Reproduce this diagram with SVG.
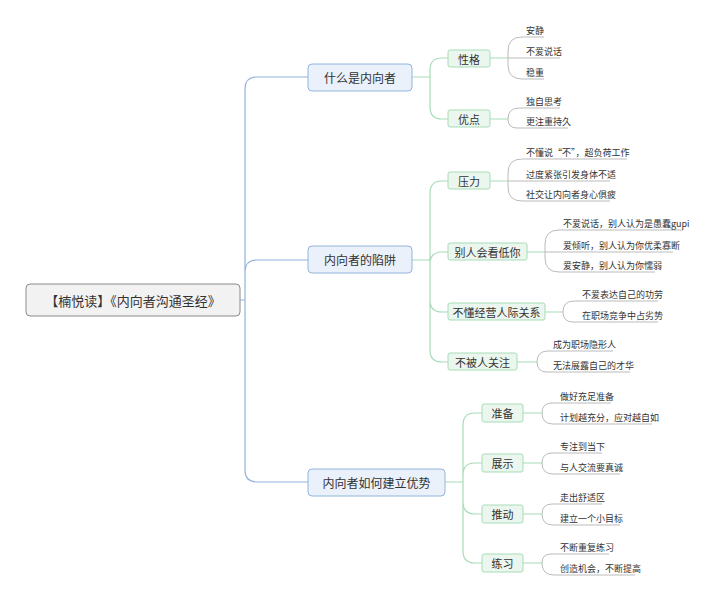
<svg xmlns="http://www.w3.org/2000/svg" width="708" height="600" viewBox="0 0 708 600">
<style>
text{font-family:"Noto Sans CJK SC","Liberation Sans",sans-serif;fill:#333}
.root{fill:#f2f2f2;stroke:#8a8a8a;stroke-width:1}
.main{fill:#eaf1fa;stroke:#94b4dc;stroke-width:1}
.sec{fill:#ebf6ee;stroke:#a8dcb8;stroke-width:1}
.tr{font-size:13px;text-anchor:middle;dominant-baseline:central}
.tm{font-size:12px;text-anchor:middle;dominant-baseline:central}
.ts{font-size:11px;text-anchor:middle;dominant-baseline:central}
.tl{font-size:9px}
.cm{fill:none;stroke:#94b4dc;stroke-width:1.2}
.cs{fill:none;stroke:#a8dcb8;stroke-width:1.2}
.cl{fill:none;stroke:#bbbbbb;stroke-width:1}
</style>
<g id="connectors">
<path class="cm" d="M240,300 H245 M245,300 V89 Q245,77 257,77 H308 M245,300 V272 Q245,260 257,260 H308 M245,300 V470 Q245,482 257,482 H308"/>
<path class="cs" d="M412,77 H430 M430,77 V70 Q430,58 442,58 H448 M430,77 V107 Q430,119 442,119 H448"/>
<path class="cs" d="M412,260 H430 M430,260 V193 Q430,181 442,181 H448 M430,260 V264 Q430,252 442,252 H448 M430,260 V300 Q430,312 442,312 H448 M430,260 V350 Q430,362 442,362 H448"/>
<path class="cs" d="M445,482 H463 M463,482 V425 Q463,413 475,413 H482 M463,482 V475 Q463,463 475,463 H482 M463,482 V502 Q463,514 475,514 H482 M463,482 V551 Q463,563 475,563 H482"/>
<path class="cs" d="M490,58 H508 M490,119 H508 M490,181 H508 M527,252 H545 M545,312 H563 M517,362 H537 M523,413 H542 M523,463 H542 M523,514 H542 M523,563 H542"/>
<path class="cl" d="M508,58 V51 Q508,37 522,37 H544 M508,58 H560 M508,58 V65 Q508,79 522,79 H544
M508,119 Q508,108 519,108 H560 M508,119 Q508,128 517,128 H568
M508,181 V173 Q508,159 522,159 H627 M508,181 H610 M508,181 V187 Q508,201 522,201 H610
M545,252 V244 Q545,230 559,230 H683 M545,252 H673 M545,252 V258 Q545,272 559,272 H655
M563,312 Q563,301 574,301 H658 M563,312 Q563,322 573,322 H658
M537,362 Q537,351 548,351 H613 M537,362 Q537,372 547,372 H630
M542,413 Q542,403 552,403 H611 M542,413 Q542,424 553,424 H652
M542,463 Q542,453 552,453 H602 M542,463 Q542,474 553,474 H620
M542,514 Q542,504 552,504 H602 M542,514 Q542,525 553,525 H620
M542,563 Q542,554 551,554 H609 M542,563 Q542,575 554,575 H635"/>
</g>
<g id="root"><rect class="root" x="26" y="284" width="214" height="32" rx="4"/><text class="tr" x="133" y="300">【楠悦读】《内向者沟通圣经》</text></g>
<g id="m1"><rect class="main" x="308" y="64" width="104" height="27" rx="4"/><text class="tm" x="360" y="77.5">什么是内向者</text></g>
<g id="m2"><rect class="main" x="308" y="246" width="104" height="27" rx="4"/><text class="tm" x="360" y="259.5">内向者的陷阱</text></g>
<g id="m3"><rect class="main" x="308" y="469" width="137" height="27" rx="4"/><text class="tm" x="376.5" y="482.5">内向者如何建立优势</text></g>
<g id="s1"><rect class="sec" x="448" y="50" width="42" height="17" rx="2"/><text class="ts" x="469" y="58.5">性格</text></g>
<g id="s2"><rect class="sec" x="448" y="110" width="42" height="17" rx="2"/><text class="ts" x="469" y="118.5">优点</text></g>
<g id="s3"><rect class="sec" x="448" y="172" width="42" height="17" rx="2"/><text class="ts" x="469" y="180.5">压力</text></g>
<g id="s4"><rect class="sec" x="448" y="243" width="79" height="17" rx="2"/><text class="ts" x="487.5" y="251.5">别人会看低你</text></g>
<g id="s5"><rect class="sec" x="448" y="303" width="97" height="17" rx="2"/><text class="ts" x="496.5" y="311.5">不懂经营人际关系</text></g>
<g id="s6"><rect class="sec" x="448" y="353" width="69" height="17" rx="2"/><text class="ts" x="482.5" y="361.5">不被人关注</text></g>
<g id="s7"><rect class="sec" x="482" y="404" width="41" height="18" rx="2"/><text class="ts" x="502.5" y="413">准备</text></g>
<g id="s8"><rect class="sec" x="482" y="454" width="41" height="18" rx="2"/><text class="ts" x="502.5" y="463">展示</text></g>
<g id="s9"><rect class="sec" x="482" y="505" width="41" height="18" rx="2"/><text class="ts" x="502.5" y="514">推动</text></g>
<g id="s10"><rect class="sec" x="482" y="554" width="41" height="18" rx="2"/><text class="ts" x="502.5" y="563">练习</text></g>
<g id="leaves">
<text class="tl" x="526" y="34">安静</text>
<text class="tl" x="526" y="55">不爱说话</text>
<text class="tl" x="526" y="76">稳重</text>
<text class="tl" x="526" y="105">独自思考</text>
<text class="tl" x="526" y="125">更注重持久</text>
<text class="tl" x="526" y="156">不懂说“不”，超负荷工作</text>
<text class="tl" x="526" y="178">过度紧张引发身体不适</text>
<text class="tl" x="526" y="198">社交让内向者身心俱疲</text>
<text class="tl" x="563" y="227">不爱说话，别人认为是愚蠢gupi</text>
<text class="tl" x="563" y="249">爱倾听，别人认为你优柔寡断</text>
<text class="tl" x="563" y="269">爱安静，别人认为你懦弱</text>
<text class="tl" x="582" y="298">不爱表达自己的功劳</text>
<text class="tl" x="582" y="319">在职场竞争中占劣势</text>
<text class="tl" x="553" y="348">成为职场隐形人</text>
<text class="tl" x="553" y="369">无法展露自己的才华</text>
<text class="tl" x="560" y="400">做好充足准备</text>
<text class="tl" x="560" y="421">计划越充分，应对越自如</text>
<text class="tl" x="560" y="450">专注到当下</text>
<text class="tl" x="560" y="471">与人交流要真诚</text>
<text class="tl" x="560" y="501">走出舒适区</text>
<text class="tl" x="560" y="522">建立一个小目标</text>
<text class="tl" x="560" y="551">不断重复练习</text>
<text class="tl" x="560" y="572">创造机会，不断提高</text>
</g>
</svg>
